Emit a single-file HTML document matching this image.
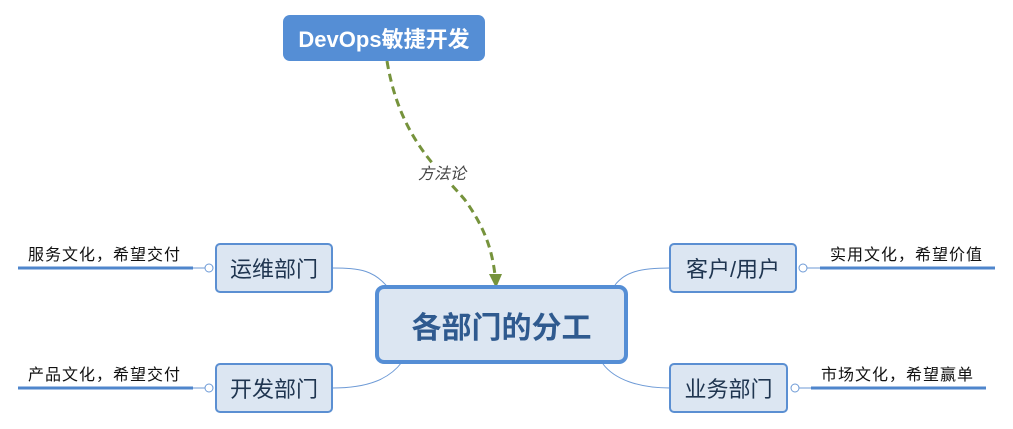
<!DOCTYPE html>
<html><head><meta charset="utf-8"><style>
body{margin:0;width:1013px;height:429px;background:#fff;position:relative;overflow:hidden;font-family:"Liberation Sans","Noto Sans CJK SC",sans-serif}
.b{position:absolute;box-sizing:border-box;display:flex;align-items:center;justify-content:center}
.sub{background:#dce6f2;border:2px solid #5b8fd2;border-radius:5px;color:#1f3550;font-size:22px}
.lf{position:absolute;font-size:16px;letter-spacing:1px;color:#111}
</style></head><body>
<svg width="1013" height="429" style="position:absolute;left:0;top:0">
<g fill="none" stroke="#6d9ad6" stroke-width="1">
<path d="M332 268 C360 268 375 270 390 290"/>
<path d="M332 388 C370 388 390 378 402 362"/>
<path d="M670 268 C640 268 625 272 615 285"/>
<path d="M670 388 C640 388 615 380 603 364"/>
<line x1="193" y1="268" x2="205" y2="268"/><circle cx="209" cy="268" r="4" fill="#fff"/>
<line x1="193" y1="388" x2="205" y2="388"/><circle cx="209" cy="388" r="4" fill="#fff"/>
<line x1="807" y1="268" x2="820" y2="268"/><circle cx="803" cy="268" r="4" fill="#fff"/>
<line x1="799" y1="388" x2="811" y2="388"/><circle cx="795" cy="388" r="4" fill="#fff"/>
</g>
<g stroke="#4f86cc" stroke-width="3">
<line x1="18" y1="268" x2="193" y2="268"/>
<line x1="18" y1="388" x2="193" y2="388"/>
<line x1="820" y1="268" x2="995" y2="268"/>
<line x1="811" y1="388" x2="986" y2="388"/>
</g>
<path d="M387 61 C400 140 440 170 465 200 C485 228 492 250 495 275" fill="none" stroke="#76933c" stroke-width="3" stroke-dasharray="8,5"/>
<polygon points="489,274 502,274 496,288" fill="#76933c"/>
<rect x="413" y="164" width="58" height="20" fill="#fff"/>
<text x="442" y="179" text-anchor="middle" font-size="16" font-style="italic" fill="#444" font-family="Liberation Sans,Noto Sans CJK SC,sans-serif">方法论</text>
</svg>
<div class="b" style="left:283px;top:15px;width:202px;height:46px;background:#558ed5;border-radius:7px;color:#fff;font-weight:bold;font-size:22px">DevOps敏捷开发</div>
<div class="b" style="left:375px;top:285px;width:253px;height:79px;background:#dce6f2;border:4px solid #558ed5;border-radius:9px;color:#2f5a8f;font-weight:bold;font-size:30px">各部门的分工</div>
<div class="b sub" style="left:215px;top:243px;width:118px;height:50px">运维部门</div>
<div class="b sub" style="left:215px;top:363px;width:118px;height:50px">开发部门</div>
<div class="b sub" style="left:669px;top:243px;width:128px;height:50px">客户/用户</div>
<div class="b sub" style="left:669px;top:363px;width:119px;height:50px">业务部门</div>
<div class="lf" style="left:28px;top:241px">服务文化，希望交付</div>
<div class="lf" style="left:28px;top:361px">产品文化，希望交付</div>
<div class="lf" style="left:830px;top:241px">实用文化，希望价值</div>
<div class="lf" style="left:821px;top:361px">市场文化，希望赢单</div>
</body></html>
